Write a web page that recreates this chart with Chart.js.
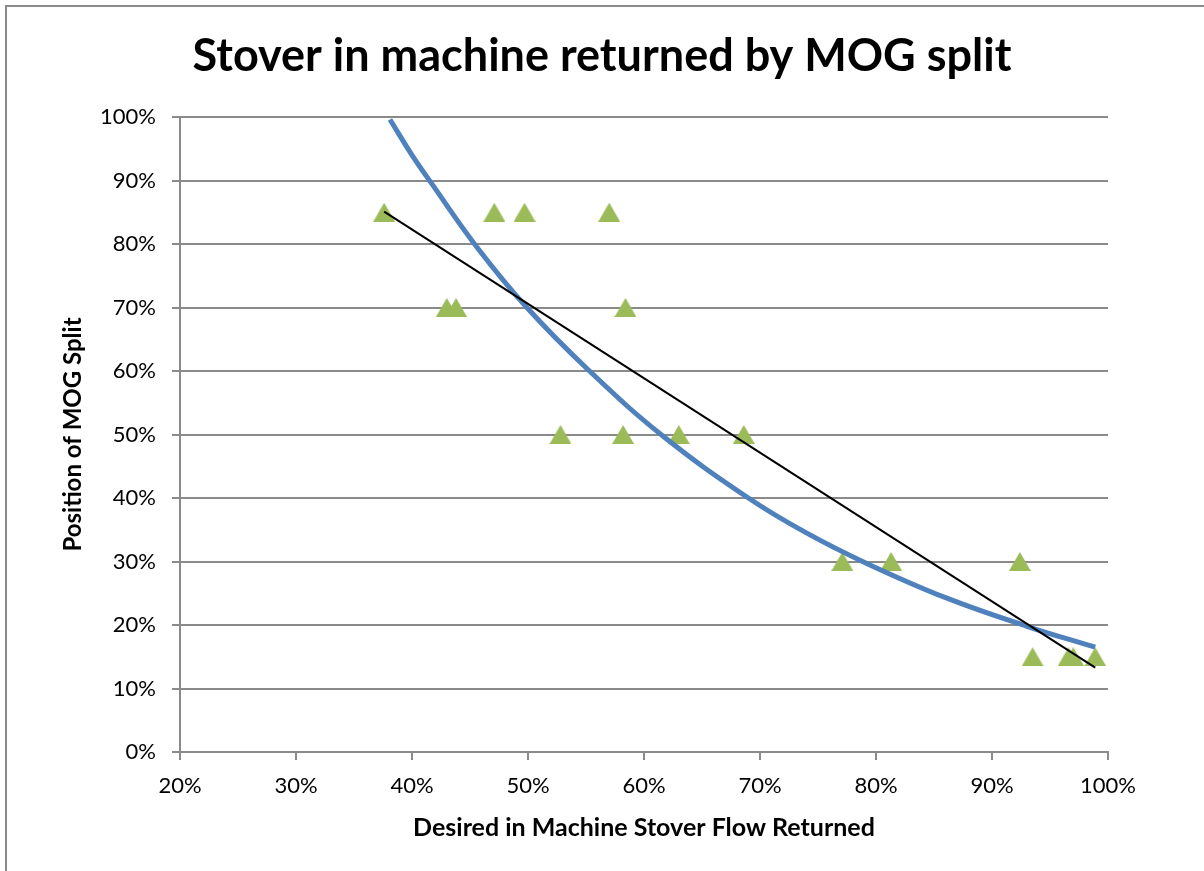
<!DOCTYPE html>
<html>
<head>
<meta charset="utf-8">
<title>Stover in machine returned by MOG split</title>
<script src="https://cdn.jsdelivr.net/npm/chart.js@4"></script>
<style>
    body { margin: 0; background: #fff; }
    canvas { display: block; }
</style>
</head>
<body>
<canvas id="mogChart" width="1204" height="871"></canvas>
<script>
// Measured points: desired stover flow returned (%) vs MOG split position (%)
const flowReturned = [37.6, 43.0, 43.8, 47.1, 49.7, 52.8, 57.0, 58.2, 58.4, 63.0, 68.6, 77.1, 81.3, 92.4, 93.5, 96.6, 97.0, 98.9];
const mogSplit = [85, 70, 70, 85, 85, 50, 85, 50, 70, 50, 50, 30, 30, 30, 15, 15, 15, 15];

// Blue curved trend line
const curveX = [38.1, 40.0, 41.7, 45.6, 49.9, 55.3, 61.6, 69.0, 74.0, 79.2, 86.0, 93.0, 98.9];
const curveY = [99.6, 94, 89.5, 79.5, 70, 60, 49.8, 40, 34.5, 29.7, 24.3, 19.8, 16.5];

// Black straight trend line, end points
const lineX = [37.6, 98.9];
const lineY = [85.1, 13.3];

const toPoints = (xs, ys) => xs.map((x, i) => ({ x: x, y: ys[i] }));

const FONT = 'Lato, "Open Sans", sans-serif';

// triangle marker centred on its box, like the spreadsheet marker
const marker = document.createElement('canvas');
marker.width = 22;
marker.height = 19;
const mctx = marker.getContext('2d');
mctx.fillStyle = '#9BBB59';
mctx.beginPath();
mctx.moveTo(11, 0);
mctx.lineTo(22, 19);
mctx.lineTo(0, 19);
mctx.closePath();
mctx.fill();

// page frame like the original chart box
const frame = {
    id: 'frame',
    beforeDraw(chart) {
        const c = chart.ctx;
        c.save();
        c.fillStyle = '#fff';
        c.fillRect(0, 0, chart.width, chart.height);
        c.strokeStyle = '#8a8a8a';
        c.lineWidth = 2;
        c.strokeRect(6, 6, chart.width + 10, chart.height + 10);
        c.restore();
    }
};

const ctx = document.getElementById('mogChart').getContext('2d');
const mogChart = new Chart(ctx, {
    type: 'scatter',
    data: {
        datasets: [
            {
                label: 'Linear trend',
                type: 'line',
                data: toPoints(lineX, lineY),
                borderColor: '#000',
                borderWidth: 2,
                pointRadius: 0,
                fill: false,
                order: 1
            },
            {
                label: 'Curve trend',
                type: 'line',
                data: toPoints(curveX, curveY),
                borderColor: '#4F81BD',
                borderWidth: 5,
                pointRadius: 0,
                tension: 0.4,
                fill: false,
                order: 2
            },
            {
                label: 'MOG split',
                data: toPoints(flowReturned, mogSplit),
                pointStyle: marker,
                pointRadius: 11,
                pointHoverRadius: 11,
                backgroundColor: '#9BBB59',
                borderColor: '#9BBB59',
                order: 3
            }
        ]
    },
    options: {
        responsive: false,
        animation: false,
        layout: {
            padding: { top: 19, left: 0, right: 0, bottom: 0 }
        },
        plugins: {
            legend: { display: false },
            tooltip: { enabled: false },
            title: {
                display: true,
                text: 'Stover in machine returned by MOG split',
                color: '#000',
                font: { family: FONT, size: 45, weight: 'bold', lineHeight: 1.2 },
                padding: { top: 10, bottom: 34 }
            }
        },
        scales: {
            x: {
                type: 'linear',
                min: 20,
                max: 100,
                afterFit(scale) { scale.height = 119; },
                ticks: {
                    stepSize: 10,
                    padding: 13,
                    color: '#000',
                    font: { family: FONT, size: 22 },
                    callback: v => v + '%'
                },
                grid: {
                    drawOnChartArea: false,
                    drawTicks: true,
                    tickLength: 8,
                    color: '#8a8a8a',
                    lineWidth: 2
                },
                border: { display: true, color: '#8a8a8a', width: 2 },
                title: {
                    display: true,
                    text: 'Desired in Machine Stover Flow Returned',
                    color: '#000',
                    font: { family: FONT, size: 25, weight: 'bold', lineHeight: 1.2 },
                    padding: { top: 0, bottom: 28 }
                }
            },
            y: {
                min: 0,
                max: 100,
                afterFit(scale) { scale.width = 180; },
                ticks: {
                    stepSize: 10,
                    padding: 16,
                    color: '#000',
                    font: { family: FONT, size: 22 },
                    callback: v => v + '%'
                },
                grid: {
                    color: '#8a8a8a',
                    lineWidth: 2,
                    tickLength: 8
                },
                border: { display: true, color: '#8a8a8a', width: 2 },
                title: {
                    display: true,
                    text: 'Position of MOG Split',
                    color: '#000',
                    font: { family: FONT, size: 24, weight: 'bold', lineHeight: 1.2 },
                    padding: { top: 59, bottom: 0 }
                }
            },
            // empty right-hand margin so the title centres on the whole page
            spacer: {
                type: 'linear',
                position: 'right',
                min: 0,
                max: 100,
                afterFit(scale) { scale.width = 96; },
                ticks: { display: false },
                grid: { display: false, drawTicks: false },
                border: { display: false }
            }
        }
    },
    plugins: [frame]
});
</script>
</body>
</html>
